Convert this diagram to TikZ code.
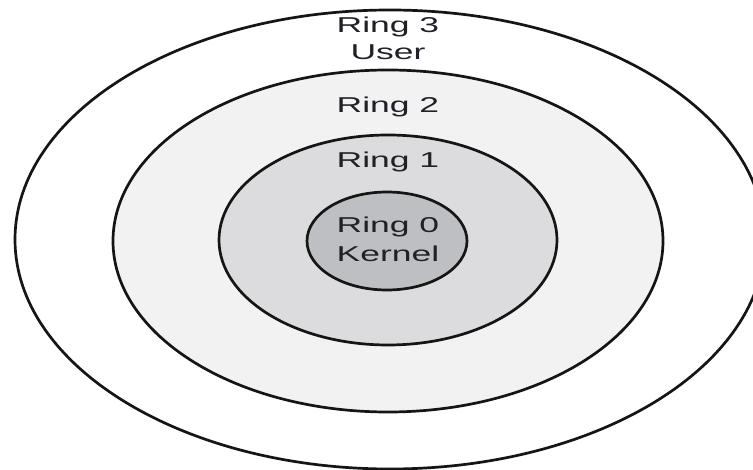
\documentclass[tikz,border=0pt]{standalone}
\usepackage{fontspec}
\newfontfamily\ringfont[FakeStretch=1.65]{Liberation Sans}
\usetikzlibrary{shapes.geometric}
\definecolor{ringtwo}{HTML}{F2F2F2}
\definecolor{ringone}{HTML}{DCDCDE}
\definecolor{ringzero}{HTML}{BEBFC3}
\definecolor{ringline}{HTML}{151515}
\definecolor{ringtext}{HTML}{202028}
\tikzset{
  ringshape/.style={ellipse, draw=ringline, line width=2.7pt, inner sep=0pt},
  ringlabel/.style={anchor=base, inner sep=0pt, text=ringtext,
    font=\ringfont\fontsize{21.5}{27}\selectfont}
}
\begin{document}
\begin{tikzpicture}[x=1pt,y=-1pt]
\useasboundingbox (0,0) rectangle (753,470);
\clip (0,0) rectangle (753,470);
\fill[white] (0,0) rectangle (753,470);
\node[ringshape, fill=white, minimum width=750pt, minimum height=459pt] (ring3) at (390,239.5) {};
\node[ringshape, fill=ringtwo, minimum width=550pt, minimum height=342pt] (ring2) at (388,241) {};
\node[ringshape, fill=ringone, minimum width=338pt, minimum height=210pt] (ring1) at (388,240) {};
\node[ringshape, fill=ringzero, minimum width=160pt, minimum height=98pt] (ring0) at (387,241) {};
\node[ringlabel] (t3a) at (388,33) {Ring 3};
\node[ringlabel] (t3b) at (388,60) {User};
\node[ringlabel] (t2) at (388,113) {Ring 2};
\node[ringlabel] (t1) at (388,168) {Ring 1};
\node[ringlabel] (t0a) at (388,233) {Ring 0};
\node[ringlabel] (t0b) at (388,262) {Kernel};
\end{tikzpicture}
\end{document}
